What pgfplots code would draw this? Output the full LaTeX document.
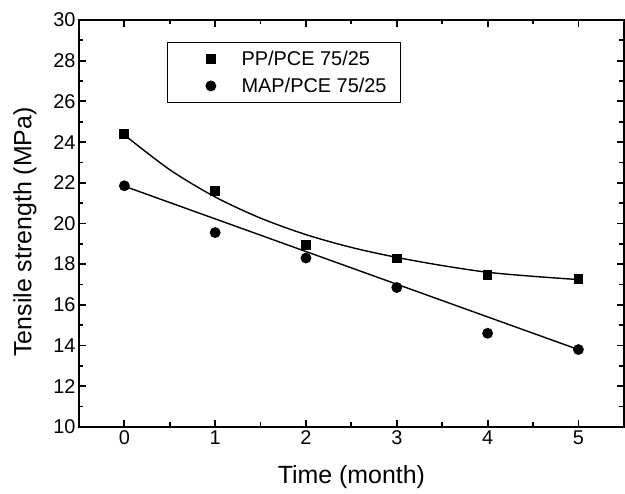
\documentclass[border=0pt]{standalone}
\usepackage{pgfplots}
\pgfplotsset{compat=1.18}
\usepackage{fontspec}
\setmainfont{Liberation Sans}

\begin{document}
\begin{tikzpicture}
\begin{axis}[
  name=ax,
  scale only axis,
  width=545bp, height=407bp,
  xmin=-0.5, xmax=5.5, ymin=10, ymax=30,
  xtick={0,1,2,3,4,5}, ytick={10,12,...,30},
  minor x tick num=1, minor y tick num=1,
  tick align=inside, tick pos=both,
  major tick length=7bp, minor tick length=4.5bp,
  axis line style={line width=2.4bp},
  every tick/.style={black, line width=1.8bp},
  tick label style={font=\fontsize{20}{23}\selectfont},
  /pgf/number format/assume math mode=true,
  xlabel={Time (month)}, ylabel={Tensile strength (MPa)},
  label style={font=\fontsize{25}{28}\selectfont},
  xlabel style={at={(axis description cs:0.5,-0.123)}, anchor=center},
  ylabel style={at={(axis description cs:-0.099,0.479)}, anchor=center},
  legend style={at={(0.161,0.947)}, anchor=north west, draw=black, line width=1bp,
    font=\fontsize{20}{23}\selectfont, row sep=7bp, inner xsep=12bp, inner ysep=7bp},
  legend cell align=left,
  legend image code/.code={\path (-31bp,0) (28bp,0); \draw[#1] plot coordinates {(0bp,0bp)};},
  every axis plot/.append style={line width=1.4bp},
]
% measured points
\addplot[only marks, mark=square*, mark size=4.2bp, black] coordinates {
 (0,24.40)(1,21.60)(2,18.95)(3,18.28)(4,17.45)(5,17.25)
};
\addplot[only marks, mark=*, mark size=4.7bp, black] coordinates {
 (0,21.85)(1,19.55)(2,18.30)(3,16.85)(4,14.60)(5,13.80)
};
\legend{PP/PCE 75/25, MAP/PCE 75/25}
% fitted curves
\addplot[black, smooth, forget plot] coordinates {
 (0,24.35)(0.5,22.64)(1,21.30)(1.5,20.26)(2,19.45)(2.5,18.82)
 (3,18.33)(3.5,17.93)(4,17.60)(4.5,17.40)(5,17.24)
};
\addplot[black, forget plot] coordinates {
 (0.05,21.75)(5,13.80)
};
\end{axis}
\path ([xshift=-79bp,yshift=-67bp]ax.south west) rectangle ([xshift=1bp,yshift=20bp]ax.north east);
\end{tikzpicture}
\end{document}
